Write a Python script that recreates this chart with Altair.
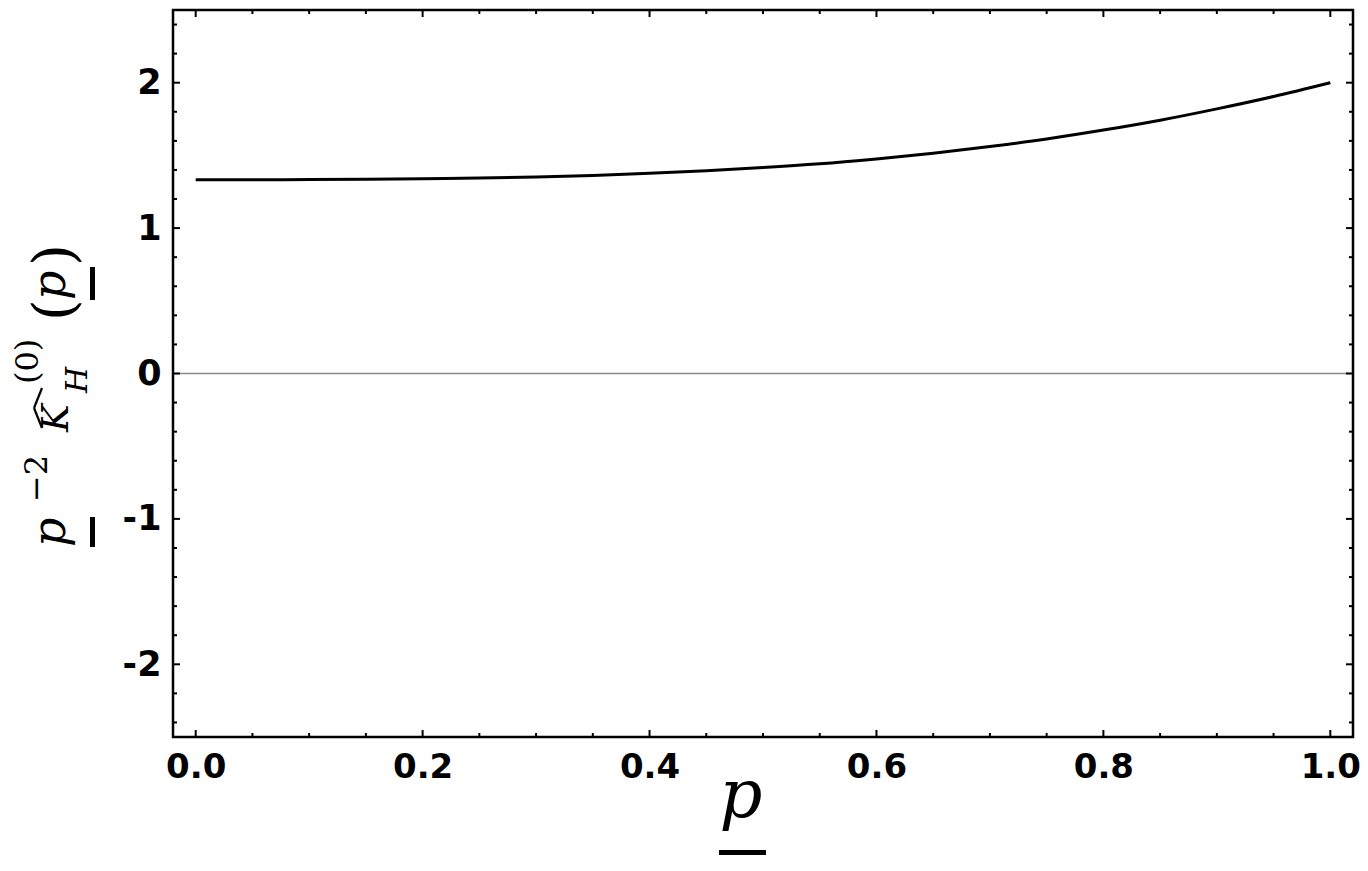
import altair as alt
import pandas as pd

# ---- data ----
p_vals = [0.0, 0.05, 0.10, 0.15, 0.20, 0.25, 0.30, 0.35, 0.40, 0.45, 0.50,
          0.55, 0.60, 0.65, 0.70, 0.75, 0.80, 0.85, 0.90, 0.95, 1.0]
k_vals = [1.333, 1.333, 1.334, 1.336, 1.339, 1.344, 1.351, 1.362, 1.377, 1.395, 1.416,
          1.442, 1.476, 1.515, 1.561, 1.613, 1.674, 1.742, 1.820, 1.905, 2.0]

x_major = [0.0, 0.2, 0.4, 0.6, 0.8, 1.0]
x_minor = [0.05, 0.1, 0.15, 0.25, 0.3, 0.35, 0.45, 0.5, 0.55,
           0.65, 0.7, 0.75, 0.85, 0.9, 0.95]
y_major = [-2, -1, 0, 1, 2]
y_minor = [-2.4, -2.2, -1.8, -1.6, -1.4, -1.2, -0.8, -0.6, -0.4, -0.2,
           0.2, 0.4, 0.6, 0.8, 1.2, 1.4, 1.6, 1.8, 2.2, 2.4]

W, H = 1180, 727
XDOM = [-0.02, 1.02]
YDOM = [-2.5, 2.5]
xs = alt.Scale(domain=XDOM, nice=False, zero=False)
ys = alt.Scale(domain=YDOM, nice=False, zero=False)

curve_df = pd.DataFrame({"p": p_vals, "k": k_vals})

LABEL_FONT = "DejaVu Sans"
AX = alt.Axis(values=x_major, format=".1f", labelFont=LABEL_FONT,
              labelFontWeight="bold", labelFontSize=34, labelColor="black",
              labelPadding=13, labelFlush=False, labelOverlap=False, labelBound=False,
              domain=False, ticks=False, tickSize=0, grid=False, title=None)
AY = alt.Axis(values=y_major, format="d", labelFont=LABEL_FONT,
              labelFontWeight="bold", labelFontSize=35, labelColor="black",
              labelPadding=12, labelFlush=False, labelOverlap=False, labelBound=False,
              labelExpr="replace(datum.label, '\u2212', '-')",
              domain=False, ticks=False, tickSize=0, grid=False, title=None)

zero_line = alt.Chart(pd.DataFrame({"z": [0]})).mark_rule(color="#8a8a8a", strokeWidth=1.6).encode(
    y=alt.Y("z:Q", scale=ys, axis=AY)
)

curve = alt.Chart(curve_df).mark_line(color="black", strokeWidth=3, interpolate="monotone").encode(
    x=alt.X("p:Q", scale=xs, axis=AX),
    y=alt.Y("k:Q", scale=ys, axis=AY),
)

def xticks(vals, length):
    d = pd.DataFrame({"v": vals})
    bottom = alt.Chart(d).mark_rule(color="black", strokeWidth=2).encode(
        x=alt.X("v:Q", scale=xs, axis=AX), y=alt.value(H), y2=alt.value(H - length))
    top = alt.Chart(d).mark_rule(color="black", strokeWidth=2).encode(
        x=alt.X("v:Q", scale=xs, axis=AX), y=alt.value(0), y2=alt.value(length))
    return [bottom, top]

def yticks(vals, length):
    d = pd.DataFrame({"v": vals})
    left = alt.Chart(d).mark_rule(color="black", strokeWidth=2).encode(
        y=alt.Y("v:Q", scale=ys, axis=AY), x=alt.value(0), x2=alt.value(length))
    right = alt.Chart(d).mark_rule(color="black", strokeWidth=2).encode(
        y=alt.Y("v:Q", scale=ys, axis=AY), x=alt.value(W), x2=alt.value(W - length))
    return [left, right]

tick_layers = xticks(x_major, 7) + xticks(x_minor, 4) + yticks(y_major, 7) + yticks(y_minor, 4)

# ---- axis titles as text pieces ----
SERIF = "DejaVu Serif"

def txt(s, px, py, size, italic=False, angle=270, align="left"):
    return alt.Chart(pd.DataFrame({"t": [s]})).mark_text(
        angle=angle, align=align, baseline="alphabetic", font=SERIF, fontSize=size,
        fontStyle="italic" if italic else "normal", color="black"
    ).encode(x=alt.value(px), y=alt.value(py), text="t:N")

def seg(x1, y1, x2, y2, w):
    return alt.Chart(pd.DataFrame({"a": [0]})).mark_rule(color="black", strokeWidth=w).encode(
        x=alt.value(x1), x2=alt.value(x2), y=alt.value(y1), y2=alt.value(y2))

title_layers = [
    # x title: underlined italic p
    txt("p", 568, 807, 67, italic=True, angle=0, align="center"),
    seg(546, 842.5, 593, 842.5, 5),
    # y title: p^-2 K^_H^(0)(p)
    txt("p", -108, 537, 46, italic=True),
    seg(-80.5, 507, -80.5, 537, 5),
    txt("\u22122", -126, 492, 32),
    txt("K", -105, 422, 37, italic=True),
    seg(-131, 418, -139, 398, 2.2),
    seg(-139, 398, -131, 378, 2.2),
    txt("H", -86, 383, 30, italic=True),
    txt("(0)", -135, 374, 32),
    txt("(", -100, 311, 56),
    txt("p", -108, 290, 46, italic=True),
    seg(-80.5, 257, -80.5, 290, 5),
    txt(")", -100, 256, 56),
]

chart = alt.layer(zero_line, curve, *tick_layers, *title_layers).properties(
    width=W, height=H, background="white",
    autosize=alt.AutoSizeParams(type="none"),
    padding={"left": 165, "top": 2, "right": 7, "bottom": 119},
).configure_view(stroke="black", strokeWidth=2.5)

chart.save("out.html", embed_options={"renderer": "svg", "actions": False})
